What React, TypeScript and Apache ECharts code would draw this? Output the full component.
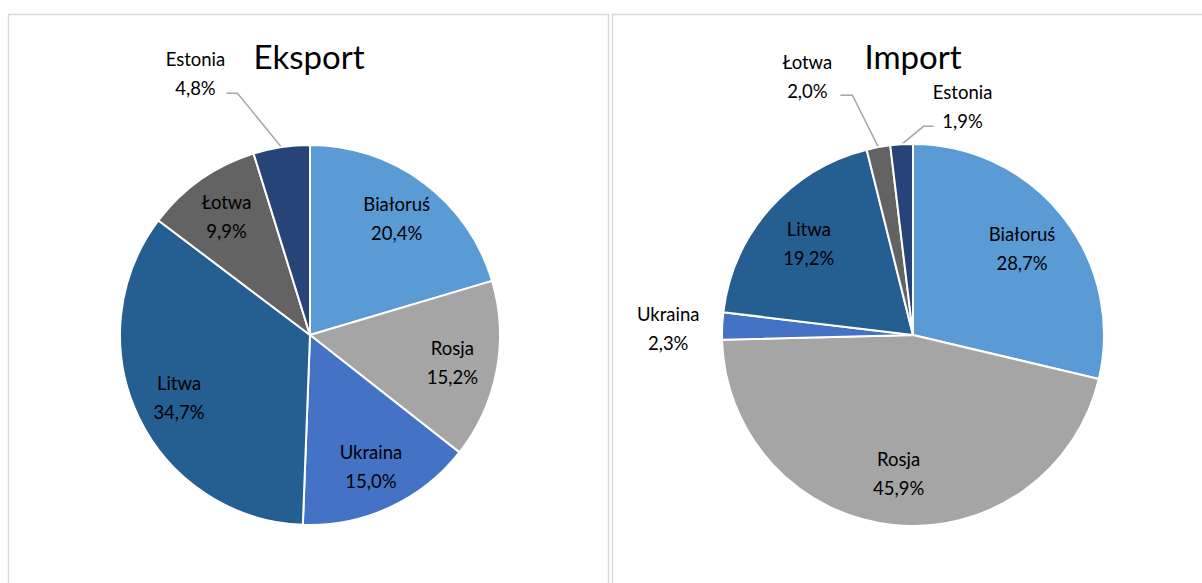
import React, { useEffect, useRef } from 'react';
import * as echarts from 'echarts';

const countries = ['Białoruś', 'Rosja', 'Ukraina', 'Litwa', 'Łotwa', 'Estonia'];
const exportShares = [20.4, 15.2, 15.0, 34.7, 9.9, 4.8];
const importShares = [28.7, 45.9, 2.3, 19.2, 2.0, 1.9];
const sliceColors = ['#5B9BD5', '#A5A5A5', '#4472C4', '#255E91', '#636363', '#264478'];
const chartTitles = ['Eksport', 'Import'];
const exportOutside = ['Estonia'];
const importOutside = ['Ukraina', 'Łotwa', 'Estonia'];

// label line / label offsets (style only), relative to the library's anchor point
const outsideLayout: Record<string, { bend?: number[]; tail?: number; label: number[]; noLine?: boolean }> = {
  'Eksport|Estonia': { bend: [-44, -54], tail: -11, label: [-31, -20] },
  'Import|Łotwa': { bend: [-26, -52], tail: -12, label: [-33, -19] },
  'Import|Estonia': { bend: [22, -18], tail: 10, label: [29, -20] },
  'Import|Ukraina': { label: [-54, 2], noLine: true },
};

const FONT = 'Lato, "Liberation Sans", sans-serif';

const fmt = (p: any) => `${p.name}\n${Number(p.value).toFixed(1).replace('.', ',')}%`;

function buildSeries(title: string, shares: number[], outside: string[], center: number[], r: number, labelR: number) {
  const base = countries.map((name, i) => {
    const isOut = outside.includes(name);
    const cfg = outsideLayout[`${title}|${name}`];
    return {
      name,
      value: shares[i],
      itemStyle: { color: sliceColors[i] },
      label: { show: isOut, position: 'outside' },
      labelLine: {
        show: isOut,
        lineStyle: { color: '#A6A6A6', width: 1.5, opacity: cfg && cfg.noLine ? 0 : 1 },
      },
    };
  });
  const overlay = countries.map((name, i) => ({
    name,
    value: shares[i],
    label: { show: !outside.includes(name) },
  }));
  const labelStyle = {
    formatter: fmt,
    fontFamily: FONT,
    fontSize: 18.5,
    lineHeight: 29,
    color: '#000',
    align: 'center',
  };
  return [
    {
      type: 'pie',
      name: title,
      center,
      radius: [0, r],
      startAngle: 90,
      clockwise: true,
      avoidLabelOverlap: false,
      itemStyle: { borderColor: '#ffffff', borderWidth: 2 },
      label: labelStyle,
      labelLine: { length: 30, length2: 10 },
      labelLayout: (p: any) => {
        const cfg = outsideLayout[`${title}|${countries[p.dataIndex]}`];
        if (!cfg || !p.labelLinePoints) return {};
        const p0 = p.labelLinePoints[0];
        if (cfg.noLine) {
          return { x: p0[0] + cfg.label[0], y: p0[1] + cfg.label[1], align: 'center', verticalAlign: 'middle' };
        }
        const p1 = [p0[0] + cfg.bend![0], p0[1] + cfg.bend![1]];
        const p2 = [p1[0] + cfg.tail!, p1[1]];
        return {
          x: p2[0] + cfg.label[0],
          y: p2[1] + cfg.label[1],
          align: 'center',
          verticalAlign: 'middle',
          labelLinePoints: [p0, p1, p2],
        };
      },
      emphasis: { disabled: true },
      data: base,
    },
    {
      type: 'pie',
      name: title + '-labels',
      center,
      radius: [0, labelR],
      startAngle: 90,
      clockwise: true,
      silent: true,
      avoidLabelOverlap: false,
      itemStyle: { color: 'rgba(0,0,0,0)', borderWidth: 0 },
      label: { ...labelStyle, position: 'inside' },
      labelLine: { show: false },
      emphasis: { disabled: true },
      data: overlay,
    },
  ];
}

export default function App() {
  const ref = useRef<HTMLDivElement>(null);
  useEffect(() => {
    if (!ref.current) return;
    const chart = echarts.init(ref.current, null, { renderer: 'svg' });
    chart.setOption({
      animation: false,
      backgroundColor: '#ffffff',
      title: chartTitles.map((t, i) => ({
        text: t,
        left: i === 0 ? 304 : 908,
        top: 34,
        textAlign: 'center',
        textStyle: { fontFamily: FONT, fontSize: 33, fontWeight: 'normal', color: '#000' },
      })),
      graphic: [
        { type: 'rect', z: -10, silent: true, shape: { x: 8.5, y: 14.5, width: 600, height: 620 }, style: { fill: 'none', stroke: '#D9D9D9', lineWidth: 1.5 } },
        { type: 'rect', z: -10, silent: true, shape: { x: 612.5, y: 14.5, width: 620, height: 620 }, style: { fill: 'none', stroke: '#D9D9D9', lineWidth: 1.5 } },
      ],
      series: [
        ...buildSeries(chartTitles[0], exportShares, exportOutside, [310, 335], 190, 284),
        ...buildSeries(chartTitles[1], importShares, importOutside, [913, 335], 191, 272),
      ],
    });
    return () => chart.dispose();
  }, []);
  return <div ref={ref} style={{ position: 'absolute', left: 0, top: 0, width: 1202, height: 583 }} />;
}
